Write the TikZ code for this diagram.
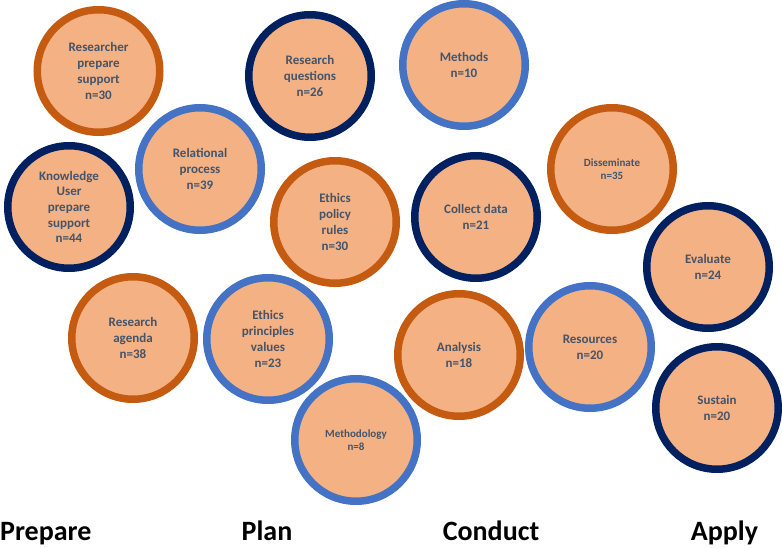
\documentclass[tikz,border=0pt]{standalone}
\usepackage{fontspec}
\setmainfont{Carlito}
\definecolor{ringorange}{HTML}{C55A11}
\definecolor{ringnavy}{HTML}{002060}
\definecolor{ringblue}{HTML}{4472C4}
\definecolor{bubblefill}{HTML}{F4B183}
\definecolor{bubbletext}{HTML}{44546A}
\tikzset{
  bubble/.style={circle, fill=bubblefill, line width=7.5pt, minimum size=122.5pt, inner sep=0pt,
    align=center, text=bubbletext, font=\bfseries\fontsize{13}{15.7}\selectfont},
  small/.style={font=\bfseries\fontsize{11}{13.3}\selectfont},
  orangering/.style={bubble, draw=ringorange},
  navyring/.style={bubble, draw=ringnavy},
  bluering/.style={bubble, draw=ringblue},
  phase/.style={font=\bfseries\fontsize{28}{30}\selectfont, text=black, inner sep=0pt}
}
\begin{document}
\begin{tikzpicture}[x=1pt,y=-1pt]
\useasboundingbox (0,0) rectangle (782,548);
\node[orangering] (rps) at (98.5,71) {Researcher\\prepare\\support\\n=30};
\node[navyring] (rq) at (310,76) {Research\\questions\\n=26};
\node[bluering] (rp) at (200,169) {Relational\\process\\n=39};
\node[navyring] (ku) at (69,207) {Knowledge\\User\\prepare\\support\\n=44};
\node[orangering] (ep) at (335,222) {Ethics\\policy\\rules\\n=30};
\node[bluering] (me) at (464,65) {Methods\\n=10};
\node[navyring] (cd) at (476,217) {Collect data\\n=21};
\node[orangering, small] (di) at (612,169) {Disseminate\\n=35};
\node[navyring] (ev) at (708,267) {Evaluate\\n=24};
\node[orangering] (ra) at (133,338) {Research\\agenda\\n=38};
\node[bluering] (epv) at (268,339) {Ethics\\principles\\values\\n=23};
\node[bluering, small] (mo) at (356,440) {Methodology\\n=8};
\node[orangering] (an) at (459,355) {Analysis\\n=18};
\node[bluering] (re) at (590,347) {Resources\\n=20};
\node[navyring] (su) at (717,408) {Sustain\\n=20};
\node[phase, anchor=base west] (prep) at (0,540) {Prepare};
\node[phase, anchor=base] (plan) at (267,540) {Plan};
\node[phase, anchor=base] (cond) at (491,540) {Conduct};
\node[phase, anchor=base] (appl) at (724.5,540) {Apply};
\end{tikzpicture}
\end{document}
